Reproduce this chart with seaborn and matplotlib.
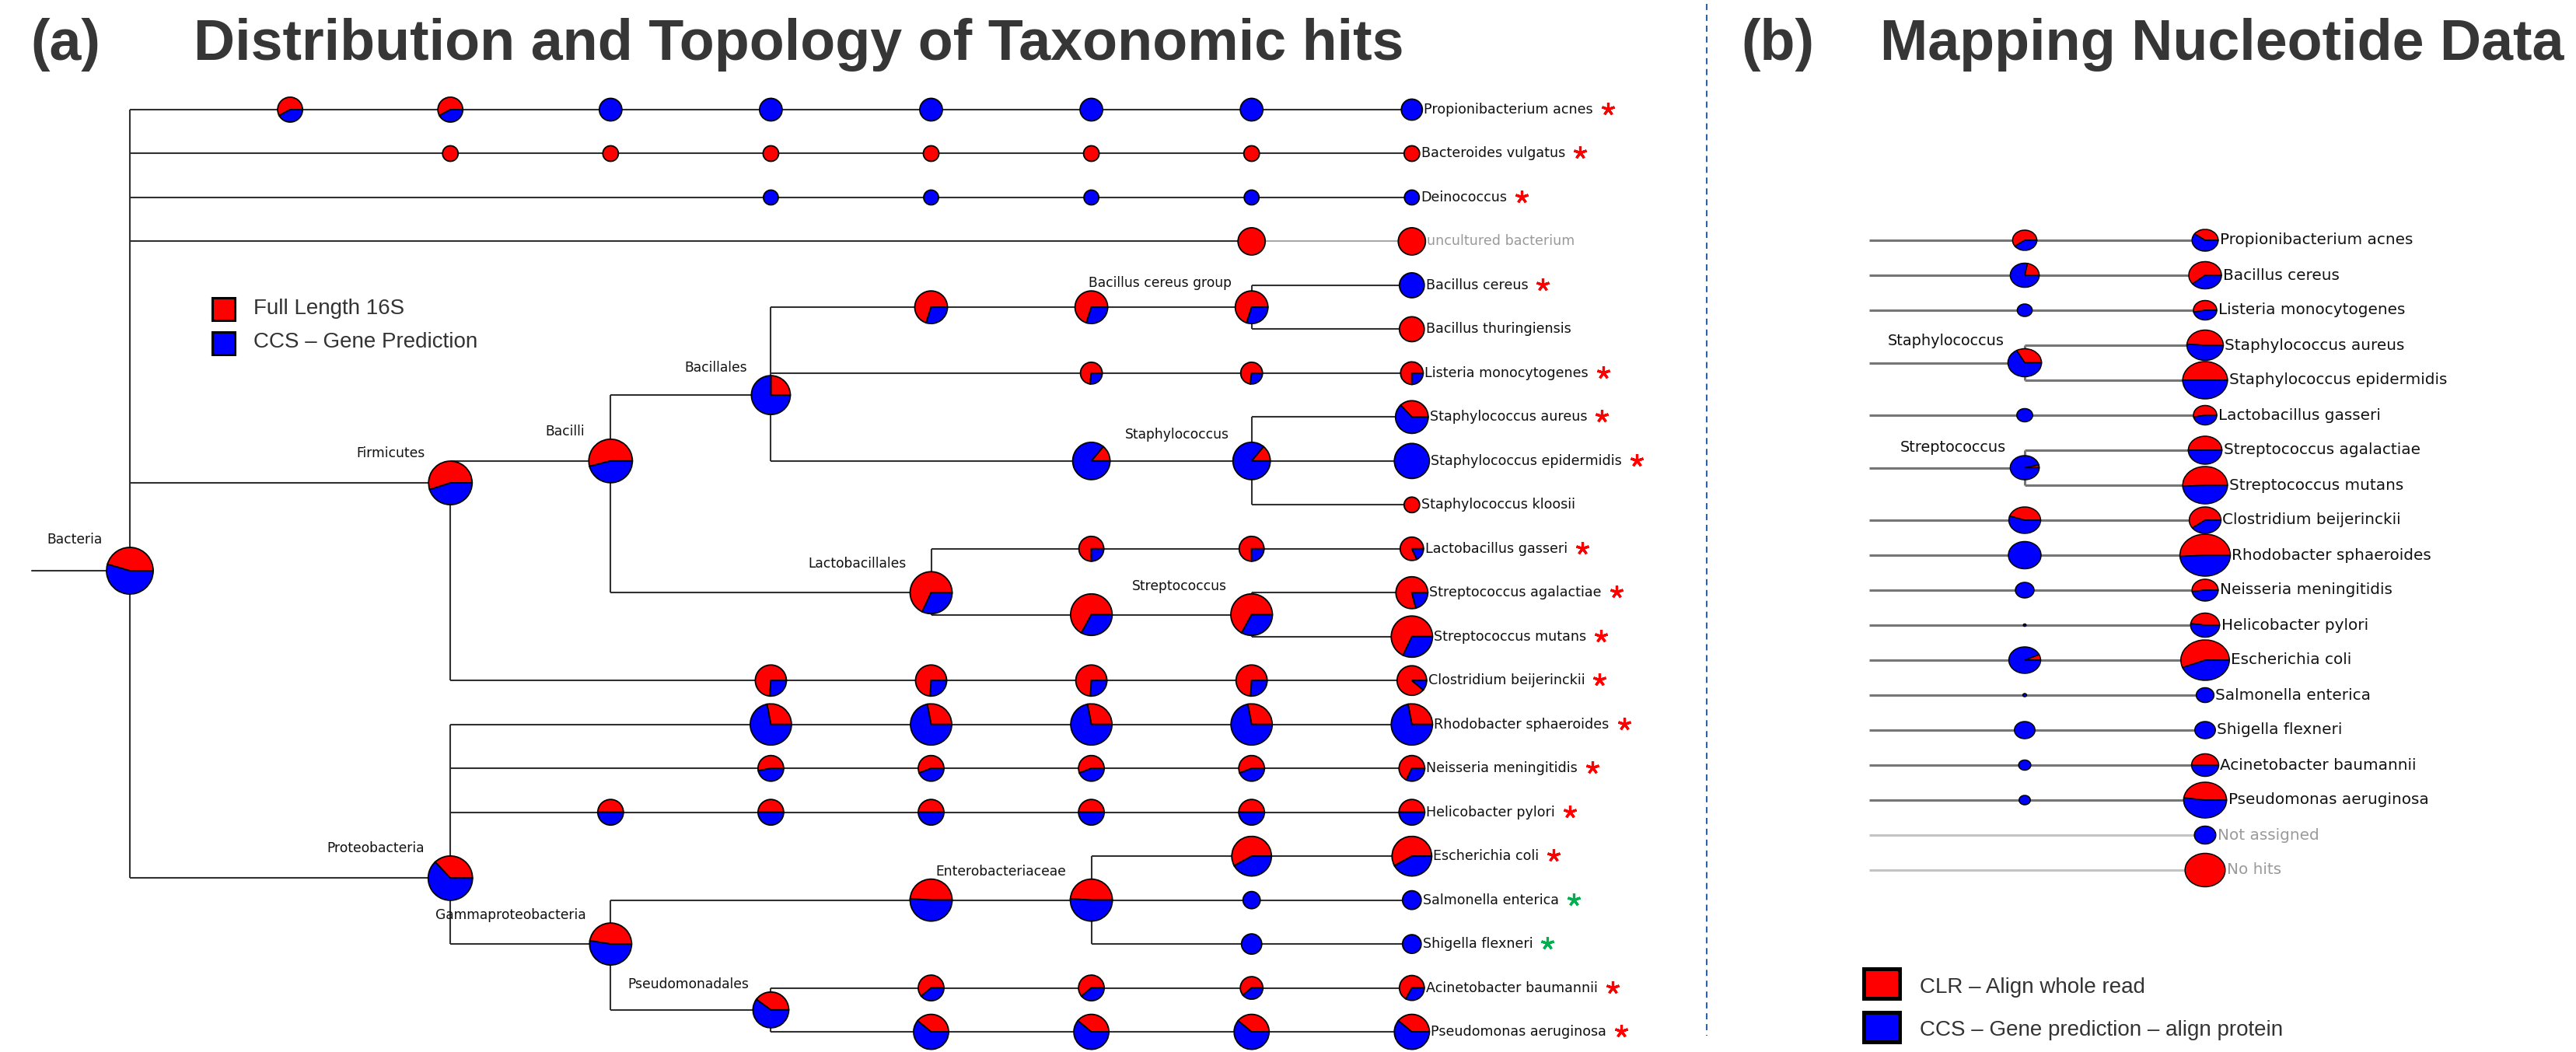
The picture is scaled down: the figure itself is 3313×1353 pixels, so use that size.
import matplotlib
matplotlib.use("Agg")
import matplotlib.pyplot as plt
from matplotlib.patches import Rectangle
import seaborn as sns

W, H = 3313, 1353
RED, BLUE = "#ff0000", "#0000ff"

# ---------------- (a) taxonomy tree ----------------
# nodes listed parent-first, children in drawing order
left_nodes = [
    "Bacteria",
    "pa1", "pa2", "pa3", "pa4", "pa5", "pa6", "pa7", "Propionibacterium acnes",
    "bv2", "bv3", "bv4", "bv5", "bv6", "bv7", "Bacteroides vulgatus",
    "dc4", "dc5", "dc6", "dc7", "Deinococcus",
    "ub7", "uncultured bacterium",
    "Firmicutes", "Bacilli", "Bacillales",
    "bc5", "bc6", "Bacillus cereus group", "Bacillus cereus", "Bacillus thuringiensis",
    "lm6", "lm7", "Listeria monocytogenes",
    "st6", "Staphylococcus", "Staphylococcus aureus", "Staphylococcus epidermidis", "Staphylococcus kloosii",
    "Lactobacillales", "lg6", "lg7", "Lactobacillus gasseri",
    "sp6", "Streptococcus", "Streptococcus agalactiae", "Streptococcus mutans",
    "cb4", "cb5", "cb6", "cb7", "Clostridium beijerinckii",
    "Proteobacteria",
    "rs4", "rs5", "rs6", "rs7", "Rhodobacter sphaeroides",
    "nm4", "nm5", "nm6", "nm7", "Neisseria meningitidis",
    "hp3", "hp4", "hp5", "hp6", "hp7", "Helicobacter pylori",
    "Gammaproteobacteria", "en5", "Enterobacteriaceae",
    "ec7", "Escherichia coli", "se7", "Salmonella enterica", "sf7", "Shigella flexneri",
    "Pseudomonadales", "ab5", "ab6", "ab7", "Acinetobacter baumannii",
    "pe5", "pe6", "pe7", "Pseudomonas aeruginosa",
]
left_parent = [
    None,
    "Bacteria", "pa1", "pa2", "pa3", "pa4", "pa5", "pa6", "pa7",
    "Bacteria", "bv2", "bv3", "bv4", "bv5", "bv6", "bv7",
    "Bacteria", "dc4", "dc5", "dc6", "dc7",
    "Bacteria", "ub7",
    "Bacteria", "Firmicutes", "Bacilli",
    "Bacillales", "bc5", "bc6", "Bacillus cereus group", "Bacillus cereus group",
    "Bacillales", "lm6", "lm7",
    "Bacillales", "st6", "Staphylococcus", "Staphylococcus", "Staphylococcus",
    "Bacilli", "Lactobacillales", "lg6", "lg7",
    "Lactobacillales", "sp6", "Streptococcus", "Streptococcus",
    "Firmicutes", "cb4", "cb5", "cb6", "cb7",
    "Bacteria",
    "Proteobacteria", "rs4", "rs5", "rs6", "rs7",
    "Proteobacteria", "nm4", "nm5", "nm6", "nm7",
    "Proteobacteria", "hp3", "hp4", "hp5", "hp6", "hp7",
    "Proteobacteria", "Gammaproteobacteria", "en5",
    "Enterobacteriaceae", "ec7", "Enterobacteriaceae", "se7", "Enterobacteriaceae", "sf7",
    "Gammaproteobacteria", "Pseudomonadales", "ab5", "ab6", "ab7",
    "Pseudomonadales", "pe5", "pe6", "pe7",
]
# taxonomic level (column) of each node
left_rank = [
    0,
    1, 2, 3, 4, 5, 6, 7, 8,
    2, 3, 4, 5, 6, 7, 8,
    4, 5, 6, 7, 8,
    7, 8,
    2, 3, 4,
    5, 6, 7, 8, 8,
    6, 7, 8,
    6, 7, 8, 8, 8,
    5, 6, 7, 8,
    6, 7, 8, 8,
    4, 5, 6, 7, 8,
    2,
    4, 5, 6, 7, 8,
    4, 5, 6, 7, 8,
    3, 4, 5, 6, 7, 8,
    3, 5, 6,
    7, 8, 7, 8, 7, 8,
    4, 5, 6, 7, 8,
    5, 6, 7, 8,
]
# share of "Full Length 16S" (red) in each pie
left_red = [
    .455,
    .58, .58, 0, 0, 0, 0, 0, 0,
    1, 1, 1, 1, 1, 1, 1,
    0, 0, 0, 0, 0,
    1, 1,
    .55, .54, .25,
    .70, .70, .70, 0, 1,
    .73, .73, .75,
    .14, .14, .37, 0, 1,
    .68, .75, .75, .82,
    .67, .67, .79, .68,
    .74, .74, .74, .74, .89,
    .37,
    .28, .28, .28, .28, .28,
    .53, .56, .56, .56, .68,
    .5, .5, .5, .5, .5, .5,
    .475, .49, .49,
    .58, .58, 0, 0, 0, 0,
    .40, .61, .61, .61, .67,
    .39, .39, .39, .39,
]
# relative pie size (hit volume)
left_size = [
    30,
    16, 16, 14.5, 14.5, 14.5, 14.5, 14.5, 13.5,
    10, 10, 10, 10, 10, 10, 10,
    9.5, 9.5, 9.5, 9.5, 9.5,
    17.5, 17.5,
    28, 28, 25,
    21, 21, 21, 16, 16,
    14, 14, 14.5,
    24, 24, 21, 22.5, 10,
    27, 16, 16, 15,
    26.7, 26.7, 20.5, 26.5,
    20, 20, 20, 20, 19,
    28.5,
    26.5, 26.5, 26.5, 26.5, 26.5,
    16.5, 16.5, 16.5, 16.5, 16.5,
    16.5, 16.5, 16.5, 16.5, 16.5, 16.5,
    27, 27, 27,
    25.5, 25.5, 11, 12, 13, 12,
    23, 16.5, 16.5, 14.5, 16,
    22.5, 22.5, 22.5, 22.5,
]
left_gray = ["uncultured bacterium"]
left_no_star = ["uncultured bacterium", "Bacillus thuringiensis", "Staphylococcus kloosii"]
left_green_star = ["Salmonella enterica", "Shigella flexneri"]

# ---------------- (b) mapping tree ----------------
right_nodes = [
    "root",
    "pa_r", "Propionibacterium acnes",
    "bc_r", "Bacillus cereus",
    "lm_r", "Listeria monocytogenes",
    "Staphylococcus", "Staphylococcus aureus", "Staphylococcus epidermidis",
    "lg_r", "Lactobacillus gasseri",
    "Streptococcus", "Streptococcus agalactiae", "Streptococcus mutans",
    "cb_r", "Clostridium beijerinckii",
    "rs_r", "Rhodobacter sphaeroides",
    "nm_r", "Neisseria meningitidis",
    "hp_r", "Helicobacter pylori",
    "ec_r", "Escherichia coli",
    "se_r", "Salmonella enterica",
    "sf_r", "Shigella flexneri",
    "ab_r", "Acinetobacter baumannii",
    "pe_r", "Pseudomonas aeruginosa",
    "Not assigned",
    "No hits",
]
right_parent = [
    None,
    "root", "pa_r",
    "root", "bc_r",
    "root", "lm_r",
    "root", "Staphylococcus", "Staphylococcus",
    "root", "lg_r",
    "root", "Streptococcus", "Streptococcus",
    "root", "cb_r",
    "root", "rs_r",
    "root", "nm_r",
    "root", "hp_r",
    "root", "ec_r",
    "root", "se_r",
    "root", "sf_r",
    "root", "ab_r",
    "root", "pe_r",
    "root",
    "root",
]
right_rank = [0, 1, 2, 1, 2, 1, 2, 1, 2, 2, 1, 2, 1, 2, 2,
              1, 2, 1, 2, 1, 2, 1, 2, 1, 2, 1, 2, 1, 2, 1, 2, 1, 2, 2, 2]
# share of "CLR - Align whole read" (red)
right_red = [0, .60, .40, .22, .61, 0, .53, .33, .49, .50, 0, .53, .04, .50, .51,
             .45, .60, 0, .51, 0, .52, 0, .48, .07, .56, 0, 0, 0, 0, 0, .50, 0, .48, 0, 1]
right_size = [0, 13, 14, 15.5, 17.5, 8, 12.5, 18, 19.5, 24, 8.5, 12.5, 15.5, 18, 24,
              17, 17, 17.5, 27, 10, 14, 1.5, 15.5, 17, 26, 2, 9.5, 11, 11, 6.5, 14.5, 6, 23, 11.5, 21.5]
right_gray = ["Not assigned", "No hits"]

# ---------------- layout helpers ----------------
def build(nodes, parents, ranks, col_x, y0, dy):
    kids = {n: [] for n in nodes}
    for n, p in zip(nodes, parents):
        if p is not None:
            kids[p].append(n)
    leaves = [n for n in nodes if not kids[n]]
    y = {leaf: y0 + i * dy for i, leaf in enumerate(leaves)}

    def first_leaf(n):
        return n if not kids[n] else first_leaf(kids[n][0])

    def last_leaf(n):
        return n if not kids[n] else last_leaf(kids[n][-1])

    for n in nodes:
        if kids[n]:
            y[n] = (y[first_leaf(n)] + y[last_leaf(n)]) / 2
    x = {n: col_x[r] for n, r in zip(nodes, ranks)}
    return kids, x, y


def draw_pie(ax, cx, cy, r, red, lw):
    vals, cols = [], []
    if red > 0:
        vals.append(red)
        cols.append(RED)
    if red < 1:
        vals.append(1 - red)
        cols.append(BLUE)
    ax.pie(vals, colors=cols, center=(cx, H - cy), radius=r, startangle=0,
           counterclock=True, frame=True, normalize=True,
           wedgeprops=dict(edgecolor="black", linewidth=lw, zorder=3))


def draw_tree(ax, nodes, parents, reds, sizes, kids, x, y, gray, xs,
              line_col, line_w, gray_col, leaf_fs, inner_fs, pie_lw):
    # xs: data units per pixel along x (the (b) panel is stretched sideways)
    for n, p in zip(nodes, parents):
        if p is None:
            continue
        c = gray_col if n in gray else line_col
        ax.plot([x[p], x[n]], [H - y[n], H - y[n]], color=c, lw=line_w,
                solid_capstyle="butt", zorder=1)
    for n, s in zip(nodes, sizes):
        if len(kids[n]) > 1 and s > 0:
            ax.plot([x[n], x[n]], [H - y[kids[n][0]], H - y[kids[n][-1]]],
                    color=line_col, lw=line_w, solid_capstyle="butt", zorder=1)
    labels = {}
    for n, red, s in zip(nodes, reds, sizes):
        if s <= 0:
            continue
        draw_pie(ax, x[n], y[n], s, red, pie_lw)
        if not kids[n]:
            col = "#9a9a9a" if n in gray else "#111111"
            labels[n] = ax.text(x[n] + s + 2 * xs, H - y[n], n, ha="left", va="center",
                                fontsize=leaf_fs, color=col, zorder=4)
        elif len(kids[n]) > 1:
            ax.text(x[n] - s - 5 * xs, H - (y[n] - s - 5), n, ha="right", va="baseline",
                    fontsize=inner_fs, color="#111111", zorder=4)
    return labels


sns.set_theme(style="white")
plt.rcParams["font.family"] = ["DejaVu Sans"]

fig = plt.figure(figsize=(W / 100, H / 100), dpi=100)
ax = fig.add_axes([0, 0, 1, 1])
ax.axis("off")

# ---- panel (a)
lk, lx, ly = build(left_nodes, left_parent, left_rank,
                   [167 + 206.1 * i for i in range(9)], 141, 56.48)
ax.plot([41, lx["Bacteria"]], [H - ly["Bacteria"]] * 2, color="#303030", lw=1.5, zorder=1)
left_labels = draw_tree(ax, left_nodes, left_parent, left_red, left_size,
                        lk, lx, ly, left_gray, 1.0, "#303030", 1.5, "#a8a8a8",
                        12.6, 12.3, 1.3)

# ---- panel (b): its own axes, x stretched 1.2x like the original bitmap
X0, STRETCH = 2200, 1.2
ax2 = fig.add_axes([X0 / W, 0, (W - X0) / W, 1])
ax2.axis("off")
rk, rx, ry = build(right_nodes, right_parent, right_rank,
                   [(px - X0) / STRETCH for px in (2404, 2604, 2836)], 309, 45)
draw_tree(ax2, right_nodes, right_parent, right_red, right_size,
          rk, rx, ry, right_gray, 1 / STRETCH, "#767676", 2.2, "#c4c4c4",
          14.4, 13.9, 1.1)
ax2.set_aspect("auto")
ax2.set_xlim(0, (W - X0) / STRETCH)
ax2.set_ylim(0, H)

# fix the data window before measuring texts
ax.set_aspect("auto")
ax.set_xlim(0, W)
ax.set_ylim(0, H)

# stars after the left leaf labels
fig.canvas.draw()
renderer = fig.canvas.get_renderer()
for n, t in left_labels.items():
    if n in left_no_star:
        continue
    c = "#00b050" if n in left_green_star else "#ff0000"
    bb = t.get_window_extent(renderer)
    x_end = ax.transData.inverted().transform((bb.x1, bb.y0))[0]
    ax.plot(x_end + 19, H - ly[n] + 1, marker=(5, 2, 0), ms=12, mew=2.3,
            color=c, zorder=4)

# titles
title_kw = dict(fontsize=53, fontweight="bold", family="Liberation Sans",
                color="#363636", va="baseline")
ax.text(39, H - 77, "(a)", **title_kw)
ax.text(249, H - 77, "Distribution and Topology of Taxonomic hits", **title_kw)
ax.text(2239, H - 77, "(b)", **title_kw)
ax.text(2418, H - 77, "Mapping Nucleotide Data", **title_kw)

# legends
leg_kw = dict(fontsize=20, family="Liberation Sans", color="#333333", va="center")
ax.add_patch(Rectangle((273, H - 412), 29, 29, facecolor=RED, edgecolor="black", lw=2.2, zorder=3))
ax.add_patch(Rectangle((273, H - 456), 29, 29, facecolor=BLUE, edgecolor="black", lw=2.2, zorder=3))
ax.text(326, H - 397, "Full Length 16S", **leg_kw)
ax.text(326, H - 440, "CCS \u2013 Gene Prediction", **leg_kw)

ax.add_patch(Rectangle((2397, H - 1284), 46, 38, facecolor=RED, edgecolor="black", lw=3.6, zorder=3))
ax.add_patch(Rectangle((2397, H - 1340), 46, 38, facecolor=BLUE, edgecolor="black", lw=3.6, zorder=3))
ax.text(2469, H - 1270, "CLR \u2013 Align whole read", **leg_kw)
ax.text(2469, H - 1325, "CCS \u2013 Gene prediction \u2013 align protein", **leg_kw)

# divider between panels
ax.plot([2195, 2195], [H - 5, H - 1332], color="#2e62a4", lw=1.5,
        ls=(0, (3.8, 2.9)), zorder=1)

ax.set_xlim(0, W)
ax.set_ylim(0, H)
fig.savefig("out.png", dpi=100, facecolor="white")
